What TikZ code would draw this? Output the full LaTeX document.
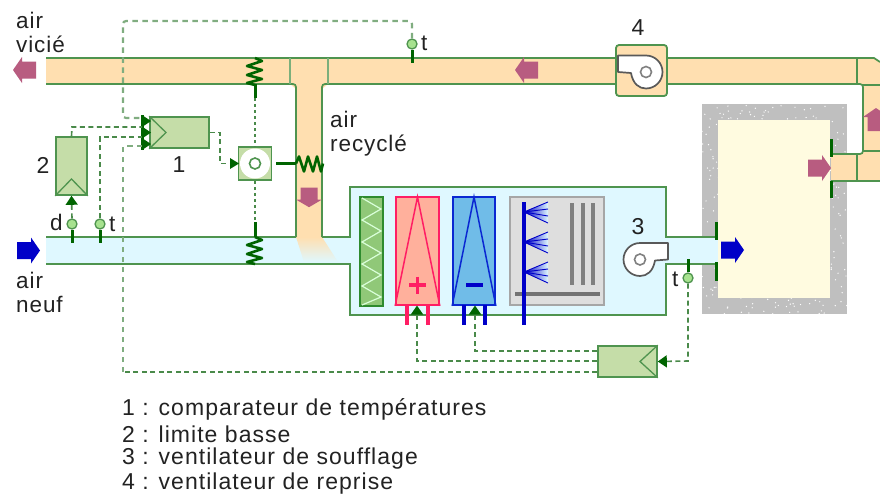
\documentclass[tikz,border=0pt]{standalone}
\usepackage{fontspec}
\setmainfont{Liberation Sans}
\newfontfamily\lbl[LetterSpace=4]{Liberation Sans}
\newfontfamily\lgd[LetterSpace=4.5]{Liberation Sans}
\usetikzlibrary{arrows.meta}
\definecolor{duct}{HTML}{FFDFB0}
\definecolor{fresh}{HTML}{DFF8FF}
\definecolor{ln}{HTML}{4F944F}
\definecolor{dk}{HTML}{006400}
\definecolor{boxg}{HTML}{C5DDA8}
\definecolor{pinkA}{HTML}{B85C80}
\definecolor{blueA}{HTML}{0000C8}
\definecolor{dash}{HTML}{4A8A4A}
\definecolor{room}{HTML}{FFFBE0}
\definecolor{txt}{HTML}{222222}
\definecolor{hotF}{HTML}{FFB09C}
\definecolor{hotL}{HTML}{FF1E64}
\definecolor{coldF}{HTML}{70BCE8}
\definecolor{coldL}{HTML}{0A28D2}
\definecolor{filtF}{HTML}{90C878}
\definecolor{filtL}{HTML}{2E8B2E}
\tikzset{
  x=1pt,y=-1pt,
  duct line/.style={draw=ln,line width=1.7pt},
  sep line/.style={draw=ln!75,line width=1.7pt},
  ctrl box/.style={draw=ln,fill=boxg,line width=1.6pt,inner sep=0pt,rectangle},
  sensor/.style={circle,draw=ln,fill=boxg!85!green,line width=1.3pt,inner sep=0pt,minimum size=10pt},
  stem/.style={draw=dk,line width=3pt},
  ctl/.style={draw=dash,line width=1.6pt,dash pattern=on 5pt off 3.5pt},
  ctl light/.style={draw=dash!70,line width=2.2pt,dash pattern=on 5.5pt off 4.5pt},
  ctl tip/.style={-{Triangle[color=dk,length=9pt,width=12pt]}},
  lab/.style={font=\fontsize{22.5}{24}\selectfont\lbl,text=txt,inner sep=0pt,align=left,anchor=west},
  legend/.style={font=\fontsize{23}{24}\selectfont\lgd,text=txt,inner sep=0pt,align=left,anchor=west},
  num/.style={font=\fontsize{23}{24}\selectfont,text=txt,inner sep=0pt},
  flow/.pic={\fill[pic actions] (-12,0) -- (-3,-13) -- (-3,-8.5) -- (11,-8.5) -- (11,8.5) -- (-3,8.5) -- (-3,13) -- cycle;},
  spring/.pic={\draw[dk,line width=2.6pt,line join=round] (0,0) -- (7,3) -- (-8,8) -- (7,12) -- (-8,17) -- (7,21) -- (-8,25) -- (0,27);},
  fanwheel/.pic={
    \draw[draw=black!65,fill=white,line width=1.7pt,line join=round]
      (0,-16.5) .. controls (-9.1,-16.5) and (-16.5,-9.1) .. (-16.5,0)
      .. controls (-16.5,9.1) and (-9.1,16.5) .. (0,16.5)
      .. controls (7,16.5) and (13,12) .. (15,1) -- (28,0) -- (28,-16.5) -- cycle;
    \draw[draw=black!50,fill=white,line width=1.6pt] (0,0) circle[radius=5.5];
  },
  spray/.pic={
    \shade[left color=blueA,right color=fresh] (0,0) -- (24,-10) -- (24,11) -- cycle;
    \draw[blueA,line width=.9pt] (0,0) -- (24,-10) (0,0) -- (24,11) (0,0) -- (24,-3) (0,0) -- (24,4);
  }
}
\begin{document}
\begin{tikzpicture}
\clip (0,0) rectangle (880,498);
\fill[white] (0,0) rectangle (880,498);

% room
\fill[black!25] (702,104) rectangle (847,314);
\pgfmathsetseed{7}
\foreach \i in {1,...,420}{
  \pgfmathsetmacro{\px}{702+145*rnd}
  \pgfmathsetmacro{\py}{104+210*rnd}
  \fill[white] (\px,\py) circle[radius=.7];
}
\fill[room] (718,120) rectangle (830,298);

% return ducts
\fill[duct] (46,58) rectangle (857,84);
\fill[duct] (857,58) -- (874,58) -- (880,62) -- (880,181) -- (831,181) -- (831,154) -- (863,154) -- (863,84) -- (857,84) -- cycle;
\fill[duct] (290,84) -- (328,84) -- (322,89) -- (322,240) -- (296,240) -- (296,89) -- cycle;
% fresh air
\fill[fresh] (46,237) rectangle (351,264);
\fill[fresh] (350,187) rectangle (666,315);
\fill[fresh] (665,237) rectangle (718,264);
\shade[top color=duct,bottom color=fresh] (296,237) -- (322,237) -- (338,262) -- (304,262) -- cycle;

% duct outlines
\draw[duct line] (46,58) -- (874,58) -- (880,62);
\draw[duct line,rounded corners=3pt] (46,84) -- (296,84) -- (296,237);
\draw[duct line,rounded corners=3pt] (322,237) -- (322,84) -- (863,84) -- (863,154) -- (831,154);
\draw[duct line] (831,181) -- (880,181);
\draw[duct line] (46,237) -- (296,237);
\draw[duct line] (322,237) -- (350,237) -- (350,187) -- (666,187) -- (666,237) -- (716,237);
\draw[duct line] (46,264) -- (350,264) -- (350,315) -- (666,315) -- (666,264) -- (716,264);
\draw[sep line] (290,58) -- (290,84) (328,58) -- (328,84);
\draw[duct line] (857,58) -- (857,84) (857,154) -- (857,181) (863,85) -- (880,85) (863,151) -- (880,151);

% fan 4
\node[draw=ln,fill=duct,line width=1.8pt,rounded corners=3pt,minimum size=51pt,inner sep=0pt] (f4) at (641.5,70.5) {};
\pic[xscale=-1] at (646,72) {fanwheel};
\pic at (640,259.5) {fanwheel};

% flow arrows
\pic[fill=pinkA] at (25,70) {flow};
\pic[fill=pinkA] at (527,70) {flow};
\pic[fill=pinkA,rotate=90,xscale=.85] at (309,197) {flow};
\pic[fill=pinkA,xscale=-1] at (819,168) {flow};
\pic[fill=pinkA,rotate=-90] at (876,120) {flow};
\pic[fill=blueA,xscale=-1] at (28,250.5) {flow};
\pic[fill=blueA,xscale=-1] at (732,250) {flow};

% filter
\node[draw=filtL,fill=filtF,line width=2pt,minimum width=23pt,minimum height=109pt,inner sep=0pt] (filt) at (371.5,251.5) {};
\draw[white!85!green,line width=1.2pt] (362,198) -- (381,209) -- (362,220) -- (381,231) -- (362,242) -- (381,253) -- (362,264) -- (381,275) -- (362,286) -- (381,297) -- (362,305);
% hot coil
\node[draw=hotL,fill=hotF,line width=1.7pt,minimum width=43pt,minimum height=108pt,inner sep=0pt] (hot) at (417.5,251) {};
\draw[hotL,line width=1.5pt] (hot.south west) -- (417.5,197) -- (hot.south east);
\draw[hotL,line width=3.8pt] (409,285) -- (426,285) (417.5,276.5) -- (417.5,293.5);
% cold coil
\node[draw=coldL,fill=coldF,line width=1.7pt,minimum width=42pt,minimum height=108pt,inner sep=0pt] (cold) at (474,251) {};
\draw[coldL,line width=1.5pt] (cold.south west) -- (474,197) -- (cold.south east);
\draw[blueA,line width=3.8pt] (466,285) -- (483,285);
% washer
\node[draw=black!35,fill=black!13,line width=1.8pt,minimum width=94pt,minimum height=108pt,inner sep=0pt] (wash) at (557,251) {};
\foreach \bx in {572,583,593} \draw[black!50,line width=3.6pt] (\bx,203) -- (\bx,285);
\draw[black!55,line width=3.6pt] (515,294) -- (600,294);
\pic at (524,212) {spray};
\pic at (524,242) {spray};
\pic at (524,272) {spray};
\draw[blueA,line width=3.6pt] (524,202) -- (524,325);
% coil pipes
\draw[hotL,line width=3.8pt] (407,305) -- (407,325) (428,305) -- (428,325);
\draw[blueA,line width=3.8pt] (464,305) -- (464,325) (485,305) -- (485,325);

% actuators / dampers
\draw[stem] (716,222) -- (716,240) (716,262) -- (716,281) (831,139) -- (831,157) (831,181) -- (831,198);

% control boxes
\node[ctrl box,minimum width=59pt,minimum height=31pt] (cmp) at (179.5,132.5) {};
\draw[ln,line width=1.3pt] (cmp.north west) -- (166,132.5) -- (cmp.south west);
\node[ctrl box,minimum width=31pt,minimum height=58pt] (lim) at (71.5,166) {};
\draw[ln,line width=1.3pt] (lim.south west) -- (71.5,179) -- (lim.south east);
\node[ctrl box,minimum width=59pt,minimum height=31pt] (ctrl) at (627.5,361.5) {};
\draw[ln,line width=1.3pt] (ctrl.north east) -- (640,361.5) -- (ctrl.south east);
\node[ctrl box,minimum size=33pt] (valve) at (255,163.5) {};
\node[circle,fill=white,minimum size=30pt,inner sep=0pt] (wheel) at (valve.center) {};
\draw[draw=ln,fill=white,line width=1.6pt] (valve.center) circle[radius=5.5];

% comparator input bar
\fill[dk] (141,115) rectangle (144,150);
\foreach \ty in {121,132.5,144} \fill[dk] (142,\ty-6) -- (151,\ty) -- (142,\ty+6) -- cycle;

% sensors
\node[sensor] (sd) at (72,224) {};
\node[sensor] (st) at (100,224) {};
\node[sensor] (sr) at (412,44) {};
\node[sensor] (ss) at (688,278) {};
\coordinate (sdp) at (72,243);
\coordinate (stp) at (100,243);
\coordinate (srp) at (412,63);
\coordinate (ssp) at (688,259);
\draw[stem] (sd.south) -- (sdp);
\draw[stem] (st.south) -- (stp);
\draw[stem] (sr.south) -- (srp);
\draw[stem] (ss.north) -- (ssp);

% damper rods
\coordinate (dU) at (255,98);
\coordinate (dL) at (255,222);
\coordinate (dR) at (276,163.5);
\draw[stem] (255,84) -- (dU);
\draw[stem] (255,237) -- (dL);
\draw[stem] (dR) -- (296,163.5);
\pic at (255,58) {spring};
\pic at (255,237) {spring};
\pic[rotate=90] at (296,163.5) {spring};
\draw[draw=dash,line width=2pt,dash pattern=on 3pt off 3pt] (dU) -- (valve.north);
\draw[draw=dash,line width=2pt,dash pattern=on 3pt off 3pt] (valve.south) -- (dL);

% control lines
\coordinate (i1) at (142,118);
\coordinate (i2) at (142,127);
\coordinate (i3) at (142,137);
\coordinate (i4) at (142,146);
\draw[ctl light,rounded corners=3pt] (sr.north) -- (412,21) -- (123,21) -- (123,118) -- (i1);
\draw[ctl light] (123,372) -- (123,146) -- (i4);
\draw[ctl] (lim.north) -- (72,127) -- (i2);
\draw[ctl] (st.north) -- (100,137) -- (i3);
\draw[ctl] (cmp.east) -- (220,132.5) -- (220,163.5) -- (232,163.5);
\fill[dk] (239,163.5) -- (230,158) -- (230,169) -- cycle;
\draw[ctl,ctl tip] (sd.north) -- (lim.south);
\draw[ctl] (ctrl.west |- 372,372) -- (123,372);
\draw[ctl,ctl tip] (597,361) -- (417,361) -- (417,305.5);
\draw[ctl,ctl tip] (597,351) -- (475,351) -- (475,305.5);
\draw[ctl,ctl tip] (ss.south) -- (688,361) -- (ctrl.east);

% texts
\node[lab] (t1) at (16,32) {air\\vicié};
\node[lab] (t2) at (16,292) {air\\neuf};
\node[lab] (t3) at (330,134) {air\\recyclé};
\node[num] (n1) at (179,165) {1};
\node[num] (n2) at (43,165) {2};
\node[num] (n3) at (638,227) {3};
\node[num] (n4) at (638,28) {4};
\node[lab] (ld) at (50,222) {d};
\node[lab] (lt) at (109,224) {t};
\node[lab] (lr) at (421,43) {t};
\node[lab] (ls) at (672,279) {t};
\node[legend] (k1) at (122,409) {1 : comparateur de températures};
\node[legend] (k2) at (122,434) {2 : limite basse};
\node[legend] (k3) at (122,459) {3 : ventilateur de soufflage};
\node[legend] (k4) at (122,484) {4 : ventilateur de reprise};
\end{tikzpicture}
\end{document}
